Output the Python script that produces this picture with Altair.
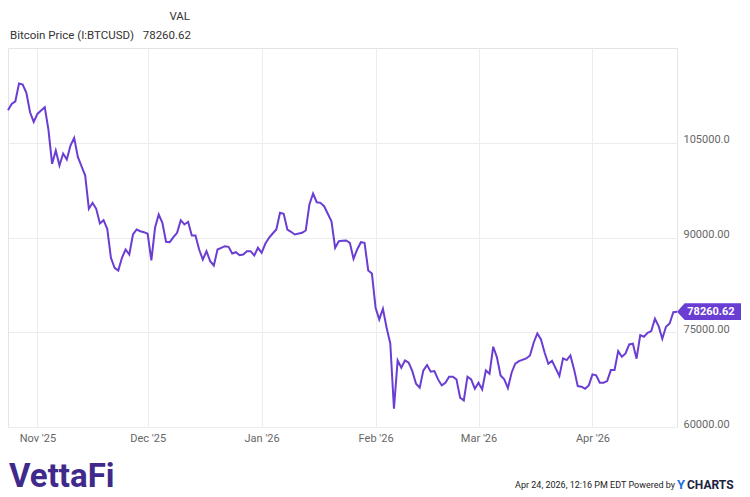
import altair as alt
import pandas as pd

# Day offsets from 2025-10-24 and Bitcoin price
day_offsets = [
    0, 1, 2, 3, 4, 5, 6, 7, 8, 9, 10, 11, 12, 13, 14, 15, 16, 17, 18, 19,
    20, 21, 22, 23, 24, 25, 26, 27, 28, 29, 30, 31, 32, 33, 34, 35, 36, 37, 38, 39,
    40, 41, 42, 43, 44, 45, 46, 47, 48, 49, 50, 51, 52, 53, 54, 55, 56, 57, 58, 59,
    60, 61, 62, 63, 64, 65, 66, 67, 68, 69, 70, 71, 72, 73, 74, 75, 76, 77, 78, 80,
    81, 82, 83, 84, 85, 86, 88, 89, 90, 91, 92, 93, 94, 95, 96, 97, 98, 99, 100, 101,
    102, 103, 104, 105, 106, 107, 108, 109, 110, 111, 112, 113, 114, 115, 116, 117, 118, 119, 120, 121,
    122, 123, 124, 125, 126, 127, 128, 129, 130, 131, 132, 133, 134, 135, 136, 137, 138, 139, 141, 142,
    143, 144, 145, 146, 147, 148, 149, 150, 151, 152, 153, 154, 155, 156, 157, 158, 159, 160, 161, 162,
    163, 164, 165, 166, 167, 168, 169, 170, 171, 172, 173, 174, 175, 176, 177, 178, 179, 180, 181, 182,
]
prices = [
    110139, 111151, 111563, 114363, 114205, 112891, 109822, 108304, 109569, 110091,
    110613, 107086, 101659, 103763, 101390, 103289, 102340, 104554, 105773, 102767,
    101280, 99808, 94540, 95490, 94540, 92215, 92737, 91376, 86789, 85207,
    84779, 86789, 88102, 87311, 90475, 91266, 90997, 90838, 90585, 86361,
    91535, 93639, 92326, 89320, 89256, 90047, 90744, 92737, 92057, 92484,
    90316, 90316, 88102, 86520, 87833, 86251, 85570, 88102, 88371, 88624,
    88529, 87469, 87674, 87200, 87311, 87833, 87833, 87152, 88371, 87580,
    89003, 89953, 90633, 91266, 93908, 93749, 91266, 90902, 90475, 90744,
    91107, 95221, 96961, 95584, 95490, 94952, 92579, 88371, 89415, 89478,
    89525, 89162, 86630, 88102, 89256, 89162, 84779, 84305, 78879, 77028,
    78720, 75715, 73231, 62900, 70541, 69387, 70541, 70178, 68849, 66855,
    66223, 68959, 69798, 68754, 68849, 67536, 66586, 67014, 67963, 67963,
    67536, 64641, 64213, 67963, 67536, 66064, 67014, 65954, 68959, 68437,
    72709, 71063, 68168, 67536, 66159, 68596, 70019, 70431, 70858, 71332,
    73342, 74813, 73864, 71760, 70019, 70494, 69276, 68089, 70858, 70589,
    71332, 69118, 66476, 66381, 66064, 66586, 68327, 68168, 67014, 67014,
    67267, 69007, 69007, 72013, 71127, 71649, 73073, 73184, 70810, 74544,
    74291, 74924, 75177, 77138, 75968, 73974, 75873, 76395, 78182, 78260.62,
]

y_ticks = [60000, 75000, 90000, 105000]
month_ticks = [
    alt.DateTime(year=2025, month=11, date=1),
    alt.DateTime(year=2025, month=12, date=1),
    alt.DateTime(year=2026, month=1, date=1),
    alt.DateTime(year=2026, month=2, date=1),
    alt.DateTime(year=2026, month=3, date=1),
    alt.DateTime(year=2026, month=4, date=1),
]
series_name = "Bitcoin Price (I:BTCUSD)"
last_value_text = "78260.62"
timestamp_text = "Apr 24, 2026, 12:16 PM EDT Powered by"

start = pd.Timestamp("2025-10-24")
df = pd.DataFrame({
    "date": [start + pd.Timedelta(days=d) for d in day_offsets],
    "price": prices,
})
last = df.tail(1).copy()
last["label"] = last_value_text

PURPLE = "#6a3dd3"
FONT = "Roboto"

x_enc = alt.X(
    "date:T",
    scale=alt.Scale(domain=[alt.DateTime(year=2025, month=10, date=24),
                            alt.DateTime(year=2026, month=4, date=24)]),
    axis=alt.Axis(values=month_ticks, format="%b '%y", title=None, ticks=False,
                  domain=False, labelColor="#666666", labelFontSize=11,
                  labelFont=FONT, labelPadding=5, gridColor="#ececec",
                  labelFlush=False),
)
y_enc = alt.Y(
    "price:Q",
    scale=alt.Scale(domain=[60000, 120000], nice=False, zero=False),
    axis=alt.Axis(orient="right", values=y_ticks, title=None, ticks=False,
                  domain=False, labelColor="#666666", labelFontSize=11,
                  labelFont=FONT, labelPadding=6, labelOffset=-3,
                  gridColor="#ececec",
                  labelExpr="datum.value == 105000 ? '105000.0' : format(datum.value, '.2f')"),
)

line = alt.Chart(df).mark_line(color=PURPLE, strokeWidth=2).encode(x=x_enc, y=y_enc)

box = alt.Chart(last).mark_point(
    shape="M0,0 L0.12,-0.13 L1,-0.13 L1,0.13 L0.12,0.13 Z",
    size=16384, filled=True, color=PURPLE, opacity=1, strokeWidth=0,
).encode(x="date:T", y="price:Q")

box_text = alt.Chart(last).mark_text(
    align="center", baseline="middle", dx=34, color="white",
    fontWeight="bold", fontSize=11, font=FONT,
).encode(x="date:T", y="price:Q", text="label:N")


def txt(text, x, y, align="left", size=12, color="#333333", weight="normal", font=FONT):
    return alt.Chart(pd.DataFrame({"t": [text]})).mark_text(
        align=align, baseline="middle", fontSize=size, color=color,
        fontWeight=weight, font=font,
    ).encode(x=alt.value(x), y=alt.value(y), text="t:N")


header = [
    txt("VAL", 182, -31, align="right", size=11.5),
    txt(series_name, 2, -12, size=11.5),
    txt(last_value_text, 183, -12, align="right", size=11.5),
]
footer = [
    txt("VettaFi", 1, 429, size=33, color="#3f2a8c", weight="bold"),
    txt(timestamp_text, 667, 437, align="right", size=9, color="#222222"),
    txt("Y", 669, 437, size=13, color="#1c6fe0", weight="bold"),
    txt("CHARTS", 679, 437, size=12, color="#1b2340", weight="bold"),
]

chart = alt.layer(line, box, box_text, *header, *footer).properties(
    width=669, height=379,
    padding={"left": 8, "top": 48, "right": 73, "bottom": 70},
    autosize=alt.AutoSizeParams(type="none"),
    background="white",
).configure_view(stroke="#e4e4e4", strokeWidth=1)

chart.save("out.html", embed_options={"renderer": "svg", "actions": False})
